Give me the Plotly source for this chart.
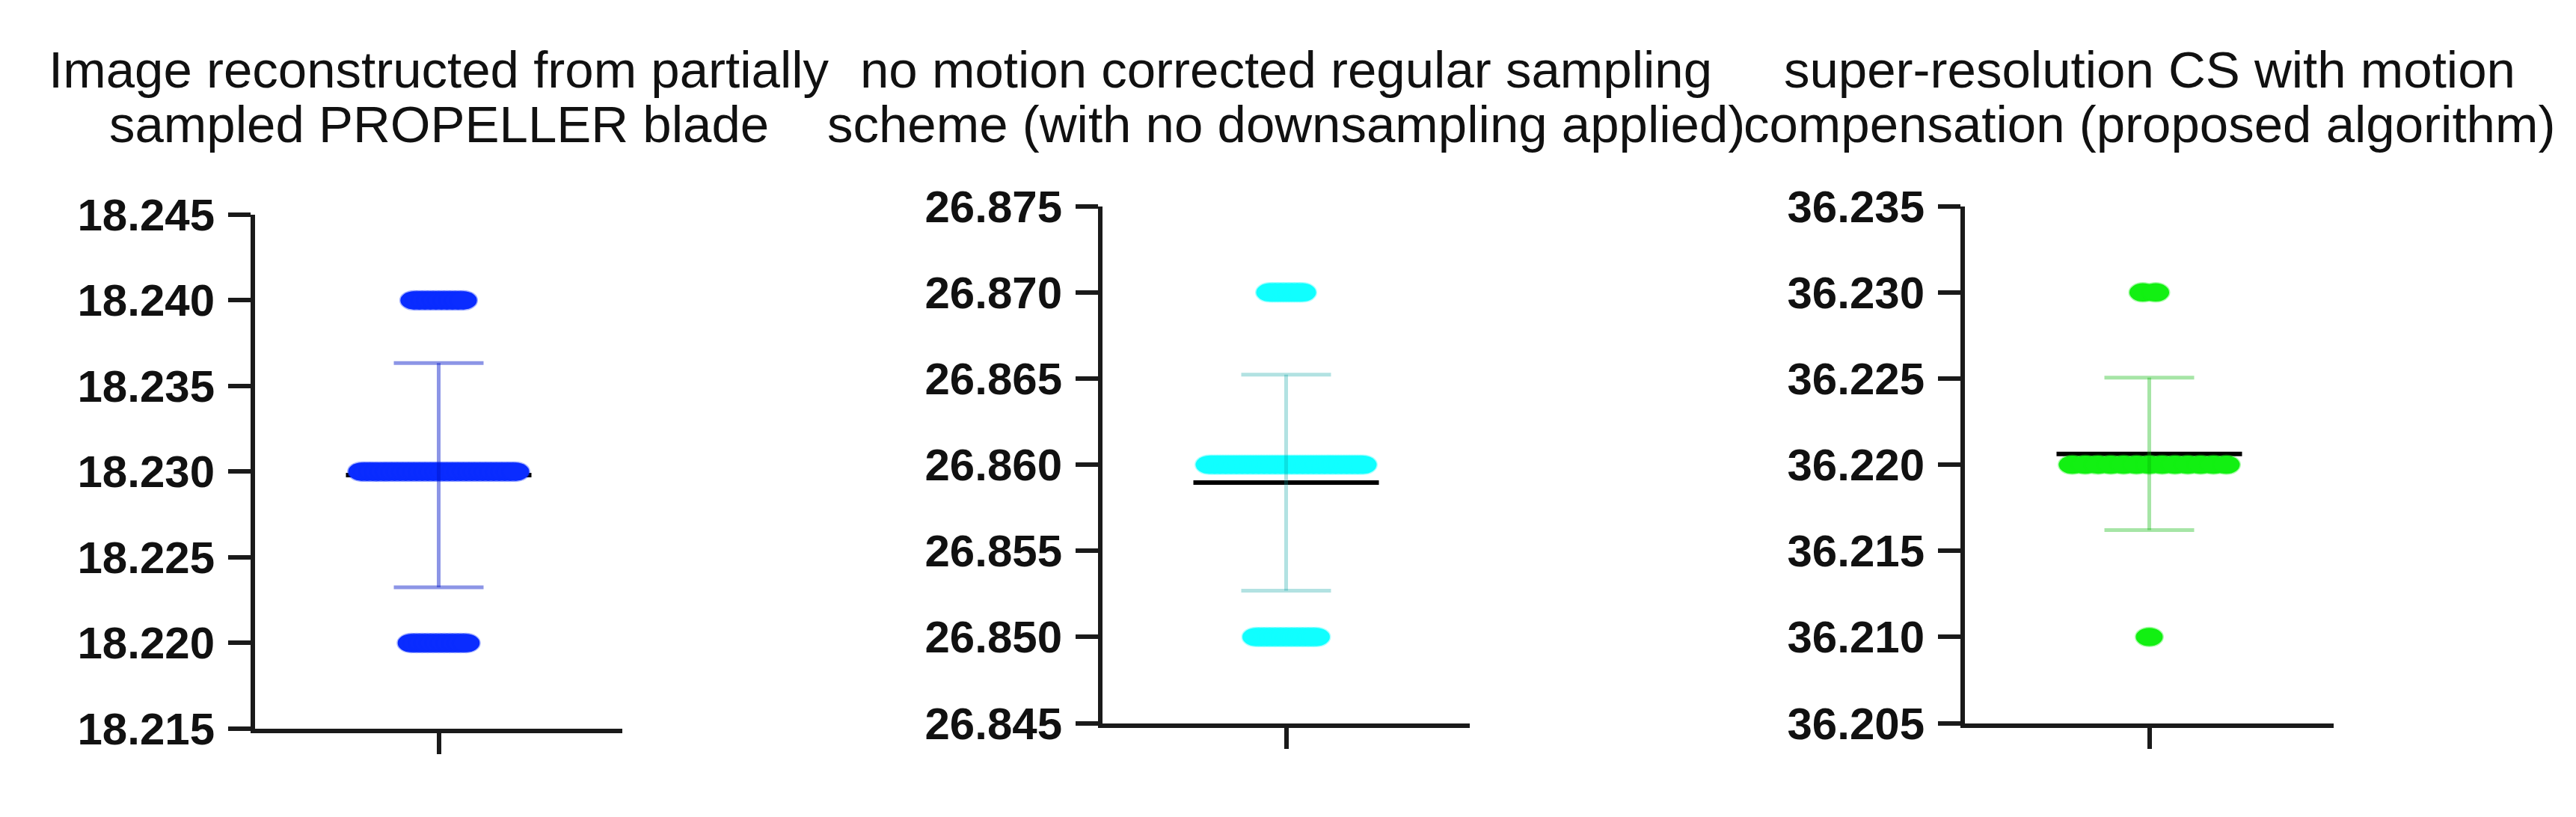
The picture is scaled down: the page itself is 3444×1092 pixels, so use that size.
import numpy as np
import plotly.graph_objects as go

# ---------------- data ----------------
titles = [
    ["Image reconstructed from partially", "sampled PROPELLER blade"],
    ["no motion corrected regular sampling", "scheme (with no downsampling applied)"],
    ["super-resolution CS with motion", "compensation (proposed algorithm)"],
]

p1_values = [18.240, 18.230, 18.220]
p1_counts = [10, 29, 11]
p2_values = [26.870, 26.860, 26.850]
p2_counts = [7, 29, 12]
p3_values = [36.230, 36.220, 36.210]
p3_counts = [2, 13, 1]

p1_ticks = [18.215, 18.220, 18.225, 18.230, 18.235, 18.240, 18.245]
p2_ticks = [26.845, 26.850, 26.855, 26.860, 26.865, 26.870, 26.875]
p3_ticks = [36.205, 36.210, 36.215, 36.220, 36.225, 36.230, 36.235]
p1_ticklabels = ["18.215", "18.220", "18.225", "18.230", "18.235", "18.240", "18.245"]
p2_ticklabels = ["26.845", "26.850", "26.855", "26.860", "26.865", "26.870", "26.875"]
p3_ticklabels = ["36.205", "36.210", "36.215", "36.220", "36.225", "36.230", "36.235"]

# ---------------- styling / layout ----------------
W, H = 3444, 1092
point_colors = ["#0a2cff", "#10ffff", "#12f012"]
point_edges = ["rgba(10,44,255,0.35)", "rgba(16,255,255,0.35)", "rgba(18,240,18,0.35)"]
err_colors = ["rgba(0,20,200,0.45)", "rgba(0,160,160,0.30)", "rgba(0,180,0,0.35)"]
x_px = [(333, 824), (1466, 1957), (2619, 3112)]
y_px = [(262, 994), (250, 986), (250, 986)]
title_base = [80, 158]
DOT_W, DOT_H = 36.0, 26.0        # stretched (elliptical) dots, px
ROW_W = 242.0                    # widest row, px
MEAN_HALF_PX, CAP_HALF_PX = 124.0, 60.0

panels = [
    (p1_values, p1_counts, p1_ticks, p1_ticklabels),
    (p2_values, p2_counts, p2_ticks, p2_ticklabels),
    (p3_values, p3_counts, p3_ticks, p3_ticklabels),
]

fig = go.Figure()
layout = dict(
    width=W, height=H, margin=dict(l=0, r=0, t=0, b=0),
    paper_bgcolor="white", plot_bgcolor="white", showlegend=False,
)
annotations, shapes = [], []
axis_col = "#1a1a1a"

for i, (vals, cnts, ticks, tlabels) in enumerate(panels):
    n = i + 1
    xa = "x" if n == 1 else f"x{n}"
    ya = "y" if n == 1 else f"y{n}"
    xpx0, xpx1 = x_px[i]
    ypx0, ypx1 = y_px[i]
    ux = (xpx1 - xpx0) / 2.0                      # px per x unit (range [-1, 1])
    uy = (ypx1 - ypx0) / (ticks[-1] - ticks[0])   # px per y unit

    data = np.repeat(np.array(vals), cnts)
    mean = float(np.mean(data))
    sd = float(np.std(data, ddof=1))

    # invisible trace to register the subplot / hover
    fig.add_trace(go.Scatter(x=[0] * len(data), y=data.tolist(), mode="markers",
                             marker=dict(size=1, color="rgba(0,0,0,0)"),
                             xaxis=xa, yaxis=ya, hoverinfo="y"))

    # mean line (drawn first, below dots)
    shapes.append(dict(type="line", xref=xa, yref=ya,
                       x0=-MEAN_HALF_PX / ux, x1=MEAN_HALF_PX / ux, y0=mean, y1=mean,
                       line=dict(color="#000000", width=6), layer="above"))

    # dots laid out in rows
    spacing = (ROW_W - DOT_W) / (max(cnts) - 1)
    hw, hh = DOT_W / 2 / ux, DOT_H / 2 / uy
    for v, k in zip(vals, cnts):
        offs = (np.arange(k) - (k - 1) / 2.0) * spacing / ux
        for o in offs:
            shapes.append(dict(type="circle", xref=xa, yref=ya,
                               x0=o - hw, x1=o + hw, y0=v - hh, y1=v + hh,
                               fillcolor=point_colors[i],
                               line=dict(color=point_edges[i], width=3), layer="above"))

    # SD error bar (on top)
    cap = CAP_HALF_PX / ux
    ec = err_colors[i]
    shapes.append(dict(type="line", xref=xa, yref=ya, x0=0, x1=0,
                       y0=mean - sd, y1=mean + sd, line=dict(color=ec, width=5), layer="above"))
    for yy in (mean - sd, mean + sd):
        shapes.append(dict(type="line", xref=xa, yref=ya, x0=-cap, x1=cap,
                           y0=yy, y1=yy, line=dict(color=ec, width=5), layer="above"))

    rng = [ticks[0] - 1e-9, ticks[-1] + 1e-9]
    layout["xaxis" if n == 1 else f"xaxis{n}"] = dict(
        domain=[xpx0 / W, xpx1 / W], range=[-1, 1], anchor=ya,
        showline=True, linecolor=axis_col, linewidth=6,
        ticks="outside", tickvals=[0], ticklen=28, tickwidth=6, tickcolor=axis_col,
        showticklabels=False, showgrid=False, zeroline=False, fixedrange=True,
    )
    layout["yaxis" if n == 1 else f"yaxis{n}"] = dict(
        domain=[1 - ypx1 / H, 1 - ypx0 / H], range=rng, anchor=xa,
        showline=True, linecolor=axis_col, linewidth=6,
        ticks="outside", tickvals=ticks, ticktext=tlabels,
        ticklen=30, tickwidth=6, tickcolor=axis_col, ticklabelstandoff=6,
        tickfont=dict(family="Liberation Sans", size=60, color="#111111", weight="bold"),
        showgrid=False, zeroline=False, fixedrange=True,
    )

    cx = (xpx0 + xpx1) / 2.0
    for j, line in enumerate(titles[i]):
        annotations.append(dict(
            text=line, x=cx / W, y=1 - (title_base[j] - 24) / H,
            xref="paper", yref="paper", xanchor="center", yanchor="middle",
            showarrow=False,
            font=dict(family="Liberation Sans", size=69, color="#111111"),
        ))

layout["annotations"] = annotations
layout["shapes"] = shapes
fig.update_layout(**layout)
fig.write_html("out.html")
